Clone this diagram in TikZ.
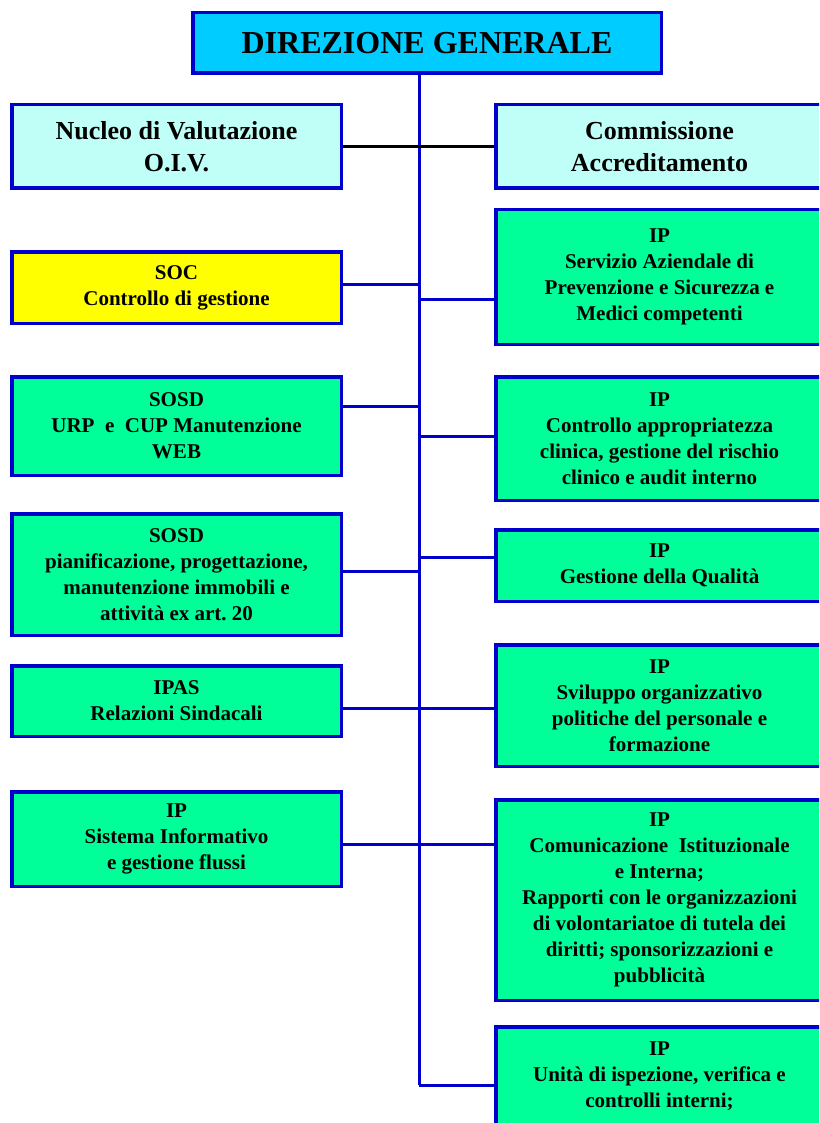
\documentclass[tikz,border=0pt]{standalone}
\usepackage{fontspec}
\setmainfont{Liberation Serif}
\usetikzlibrary{positioning,calc}
\frenchspacing

\definecolor{dgcyan}{HTML}{00CCFF}
\definecolor{staffcyan}{HTML}{BFFFF7}
\definecolor{unitgreen}{HTML}{00FF99}
\definecolor{socyellow}{HTML}{FFFF00}
\definecolor{edgeblue}{HTML}{0000CC}

\begin{document}
\begin{tikzpicture}
[x=1pt, y=-1pt, line width=3.5pt,
dgbox/.style={rectangle, draw=edgeblue, fill=dgcyan, inner sep=0pt, minimum width=468.5pt, minimum height=60.5pt, font=\fontsize{32}{38}\selectfont\bfseries},
staffbox/.style={rectangle, draw=edgeblue, fill=staffcyan, inner sep=0pt, align=center, minimum height=83.5pt, font=\fontsize{26}{32}\selectfont\bfseries},
unitbox/.style={rectangle, draw=edgeblue, fill=unitgreen, inner sep=0pt, align=center, font=\fontsize{21}{26}\selectfont\bfseries},
leftbox/.style={unitbox, minimum width=329.5pt},
rightbox/.style={unitbox, minimum width=327.5pt},
link/.style={draw=edgeblue, line width=3pt},
stafflink/.style={draw=black, line width=3pt}]

\useasboundingbox (0,0) rectangle (819,1123);
\clip (0,0) rectangle (819,1123);

\node[dgbox] (dg) at (427,43) {DIREZIONE GENERALE};

\node[staffbox, minimum width=329.5pt] (nucleo) at (176.5,146.5) {Nucleo di Valutazione\\O.I.V.};
\node[staffbox, minimum width=327.5pt] (comm) at (659.5,146.5) {Commissione\\Accreditamento};

\node[leftbox, fill=socyellow, minimum height=71.5pt] (soc) at (176.5,287.5) {SOC\\Controllo di gestione};
\node[leftbox, minimum height=98.5pt] (urp) at (176.5,426) {SOSD\\URP\ \ e\ \ CUP Manutenzione\\WEB};
\node[leftbox, minimum height=121.5pt] (pian) at (176.5,574.5) {SOSD\\pianificazione, progettazione,\\manutenzione immobili e\\attivit\`a ex art. 20};
\node[leftbox, minimum height=70.5pt] (ipas) at (176.5,701) {IPAS\\Relazioni Sindacali};
\node[leftbox, minimum height=94.5pt] (sist) at (176.5,839) {IP\\Sistema Informativo\\e gestione flussi};

\node[rightbox, minimum height=134.5pt] (serv) at (659.5,277) {IP\\Servizio Aziendale di\\Prevenzione e Sicurezza e\\Medici competenti};
\node[rightbox, minimum height=123.5pt] (contr) at (659.5,438.5) {IP\\Controllo appropriatezza\\clinica, gestione del rischio\\clinico e audit interno};
\node[rightbox, minimum height=71.5pt] (qual) at (659.5,565.5) {IP\\Gestione della Qualit\`a};
\node[rightbox, minimum height=121.5pt] (svil) at (659.5,705.5) {IP\\Sviluppo organizzativo\\politiche del personale e\\formazione};
\node[rightbox, minimum height=200.5pt] (comu) at (659.5,900) {IP\\Comunicazione\ \ Istituzionale\\e Interna;\\Rapporti con le organizzazioni\\di volontariatoe di tutela dei\\diritti; sponsorizzazioni e\\pubblicit\`a};
\node[rightbox, minimum height=98.5pt] (unita) at (659.5,1076) {IP\\Unit\`a di ispezione, verifica e\\controlli interni;};

\coordinate (trunk) at (419,1085);
\draw[link] (dg.south -| trunk) -- (trunk);

\foreach \n/\y in {soc/284, urp/406, pian/571, ipas/708, sist/844}{
  \coordinate (t\n) at (419,\y);
  \draw[link] (t\n) -- (t\n -| \n.east);
}
\foreach \n/\y in {serv/299, contr/436, qual/557, svil/708, comu/844}{
  \coordinate (t\n) at (419,\y);
  \draw[link] (t\n) -- (t\n -| \n.west);
}
\draw[link] (trunk) -- (trunk -| unita.west);

\draw[stafflink] (nucleo.east) -- (comm.west);
\end{tikzpicture}
\end{document}
